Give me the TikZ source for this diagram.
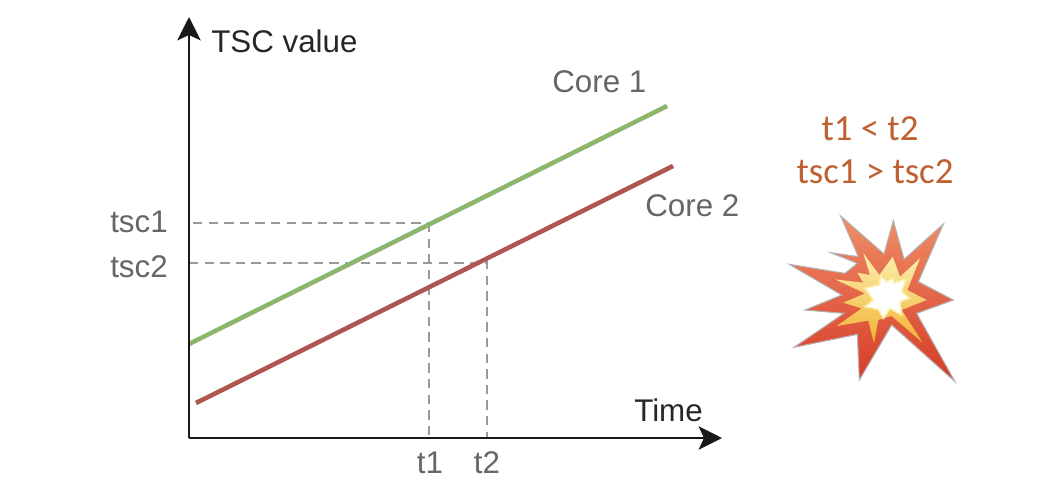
\documentclass[tikz,border=0pt]{standalone}
\usepackage{fontspec}
\setmainfont{Liberation Sans}
\newfontfamily\notefont{Carlito}
\usetikzlibrary{arrows.meta, calc, positioning}
\definecolor{kurve1}{HTML}{8DB56B}
\definecolor{kurve2}{HTML}{AE5650}
\definecolor{strich}{HTML}{9A9A9A}
\definecolor{beschr}{HTML}{666666}
\definecolor{notiz}{HTML}{BE6130}
\definecolor{blitzoben}{HTML}{EF8E68}
\definecolor{blitzmitte}{HTML}{E04A32}
\definecolor{blitzunten}{HTML}{D63A26}
\definecolor{kernoben}{HTML}{FBF0AE}
\definecolor{kernunten}{HTML}{F3B032}

\begin{document}
\begin{tikzpicture}[
        x=0.75pt, y=-0.75pt,
        achse/.style={-{Stealth[length=17.5pt, width=17.5pt, inset=4pt]}, line width=2pt, black!90},
        kurve/.style={line width=3.4pt},
        hilfe/.style={dash pattern=on 7pt off 4.7pt, line width=1.4pt, strich},
        lab/.style={font=\fontsize{23.5}{28}\selectfont, text=beschr, inner sep=0pt, anchor=base west},
        tick/.style={font=\fontsize{23.5}{28}\selectfont, text=beschr, inner sep=0pt, anchor=base},
        notiz/.style={font=\notefont\fontsize{27.6}{32}\selectfont, text=notiz, inner sep=0pt, anchor=base}
      ]
      \useasboundingbox (0,0) rectangle (1062,494);

      \coordinate (ursprung) at (189,438);
      \coordinate (yende) at (189,17);
      \coordinate (xende) at (722,438);
      \coordinate (k1a) at (189,344);
      \coordinate (k1b) at (667,106);
      \coordinate (k2a) at (196,403);
      \coordinate (k2b) at (673,166);
      \coordinate (p1) at (429,223);
      \coordinate (p2) at (487,260);
      \coordinate (y1) at (193,223);
      \coordinate (y2) at (189,263);
      \coordinate (x1) at (429,438);
      \coordinate (x2) at (487,438);
      \coordinate (q2) at (487,263);

      % Hilfslinien
      \draw[hilfe] (y1) -- (p1);
      \draw[hilfe] (y2) -- (q2);
      \draw[hilfe] (p1) -- (x1);
      \draw[hilfe] (p2) -- (x2);

      \draw[kurve, kurve1] (k1a) -- (k1b);
      \draw[kurve, kurve2] (k2a) -- (k2b);

      \draw[achse] (ursprung) -- (yende);
      \draw[achse] (ursprung) -- (xende);

      \node[lab, text=black!85] (ylab) at (211,52) {TSC value};
      \node[lab, text=black!85] (xlab) at (634,421) {Time};
      \node[lab] (core1) at (552,92) {Core 1};
      \node[lab] (core2) at (645,216) {Core 2};
      \node[lab] (tsc1) at (110,232) {tsc1};
      \node[lab] (tsc2) at (110,277) {tsc2};
      \node[tick] (t1) at (430,473) {t1};
      \node[tick] (t2) at (487,473) {t2};

      \node[notiz] (n1) at (870,140) {t1 < t2};
      \node[notiz] (n2) at (875,183) {tsc1 > tsc2};

      % Explosion
      \begin{scope}[shift={(770,100)}, x=0.25pt, y=-0.25pt]
        \path[draw=black!30, line width=0.8pt, top color=blitzoben, middle color=blitzmitte, bottom color=blitzunten]
          (212,348) -- (342,462) -- (370,362) -- (402,478) -- (520,372) -- (445,545)
          -- (550,600) -- (440,640) -- (555,845) -- (365,675) -- (268,840)
          -- (262,703) -- (72,742) -- (222,640) -- (105,630) -- (215,585) -- (58,493)
          -- (225,520) -- (262,490) -- (182,458) -- (265,470) -- cycle;
        \path[top color=kernoben, bottom color=kernunten]
          (280,460) -- (328,525) -- (368,470) -- (390,530) -- (450,475) -- (412,570)
          -- (470,600) -- (395,630) -- (458,728) -- (365,648) -- (325,660) -- (312,730)
          -- (295,662) -- (200,678) -- (275,625) -- (220,608) -- (285,580) -- (195,538)
          -- (280,548) -- (262,518) -- (300,525) -- cycle;
        \path[fill=white, draw=kernoben, line width=1.2pt]
          (285,565) -- (328,555) -- (332,528) -- (350,545) -- (368,535) -- (372,548)
          -- (408,538) -- (395,575) -- (418,595) -- (390,605) -- (395,645) -- (360,625)
          -- (340,655) -- (325,628) -- (285,620) -- (310,600) -- cycle;
      \end{scope}
    \end{tikzpicture}
\end{document}
